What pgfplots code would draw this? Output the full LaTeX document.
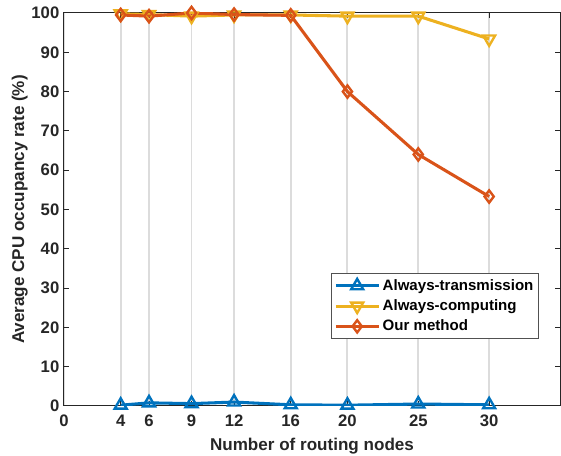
\documentclass[border=0pt]{standalone}
\usepackage{fontspec}
\setmainfont{Liberation Sans}
\usepackage{pgfplots}
\pgfplotsset{compat=1.18}

\definecolor{mblue}{rgb}{0,0.447,0.741}
\definecolor{myellow}{rgb}{0.929,0.694,0.125}
\definecolor{morange}{rgb}{0.850,0.325,0.098}
\definecolor{axgray}{HTML}{262626}
\definecolor{gridgray}{HTML}{DCDCDC}

\begin{document}
\begin{tikzpicture}
\begin{axis}[
    scale only axis,
    width=372pt, height=294.75pt,
    xmin=0, xmax=35, ymin=0, ymax=100,
    xtick={0,4,6,9,12,16,20,25,30},
    ytick={0,10,...,100},
    tick align=inside,
    major tick length=4pt,
    axis line style={axgray, line width=0.75pt},
    tick style={axgray, line width=0.75pt},
    xmajorgrids,
    major grid style={draw=gridgray, line width=1.4pt},
    /pgf/number format/assume math mode=true,
    ticklabel style={font=\fontsize{12.5}{14}\selectfont\bfseries, text=axgray},
    xticklabel style={yshift=-3pt},
    label style={font=\fontsize{12.8}{15}\selectfont\bfseries, text=axgray},
    xlabel={Number of routing nodes},
    ylabel={Average CPU occupancy rate (\%)},
    xlabel style={yshift=-2pt},
    ylabel style={yshift=-4pt},
    legend style={at={(rel axis cs:0.958,0.17)}, anchor=south east,
        draw=axgray!80, line width=0.6pt, fill=white,
        font=\fontsize{11.3}{13}\selectfont\bfseries,
        row sep=1.5pt, inner xsep=2pt, inner ysep=2.5pt},
    legend cell align=left,
    legend image code/.code={\draw[mark repeat=2,mark phase=2] plot coordinates {(0pt,0pt)(16pt,0pt)(32pt,0pt)};},
    every axis plot/.append style={line width=2.3pt},
]
\addplot[mblue, mark=triangle, mark size=5.2pt, mark options={fill=white, line width=1.8pt}] coordinates {
    (4,0.2) (6,0.8) (9,0.6) (12,1.0) (16,0.3) (20,0.2) (25,0.5) (30,0.3)
};
\addlegendentry{Always-transmission}
\addplot[myellow, mark=triangle, mark size=5.2pt, mark options={rotate=180, fill=white, line width=1.8pt}] coordinates {
    (4,99.8) (6,99.6) (9,99.2) (12,99.5) (16,99.5) (20,99.2) (25,99.2) (30,93.4)
};
\addlegendentry{Always-computing}
\addplot[morange, mark=diamond, mark size=4.6pt, mark options={fill=white, line width=1.8pt}] coordinates {
    (4,99.5) (6,99.2) (9,100) (12,99.6) (16,99.4) (20,80.0) (25,64.0) (30,53.3)
};
\addlegendentry{Our method}
\end{axis}
\pgfresetboundingbox
\path ([xshift=-48pt,yshift=-37.5pt]current axis.south west) rectangle ([xshift=0.75pt,yshift=9.75pt]current axis.north east);
\end{tikzpicture}
\end{document}
